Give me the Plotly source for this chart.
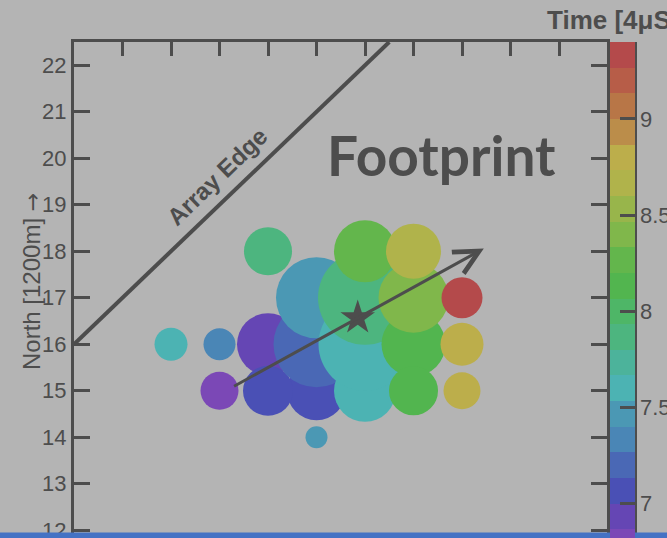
import numpy as np
import plotly.graph_objects as go

# Triggered detector stations (grid units of 1200 m)
east = [2, 3, 3, 4, 4, 4, 5, 5, 5, 5, 6, 6, 6, 6, 7, 7, 7, 7, 8, 8, 8]
north = [16, 16, 15, 18, 16, 15, 17, 16, 15, 14, 18, 17, 16, 15, 18, 17, 16, 15, 17, 16, 15]
# Arrival time of the shower front at each station [4 microseconds]
arrival = [7.60, 7.33, 6.80, 7.87, 6.90, 7.07, 7.47, 7.20, 7.05, 7.45,
           8.25, 7.85, 7.62, 7.58, 8.72, 8.40, 8.12, 8.15, 9.33, 8.80, 8.76]
# Recorded signal, drawn as circle diameter
signal = [3.3, 3.2, 3.8, 4.8, 6.2, 5.0, 8.1, 8.6, 5.9, 2.2,
          6.2, 9.4, 9.3, 6.2, 5.5, 7.0, 6.4, 4.9, 4.1, 4.3, 3.7]

# Reconstructed core and shower axis direction
core_east, core_north = [5.85], [16.57]
axis_start = (3.27, 15.08)
axis_end = (8.45, 18.06)

# Array edge: north = east + 16
edge_east = [0.0, 6.5]
edge_north = [16.0, 22.5]

time_ticks = [7, 7.5, 8, 8.5, 9]
y_ticks = list(range(12, 23))

# Palette: 20 contour levels from bottom (early) to top (late)
palette = ["#7b48b6", "#6546b4", "#4a50b5", "#4a68b5", "#4a86b6",
           "#4b98b4", "#4cb3b3", "#4cb39b", "#4db57f", "#4eb667",
           "#52b54f", "#63b64c", "#80b74b", "#98b54b", "#b0b34b",
           "#bcae4b", "#bb8d4a", "#b87647", "#b75d48", "#b44a4b"]
t_min, t_max = 6.7333, 9.4

colorscale = []
n = len(palette)
for i, c in enumerate(palette):
    colorscale.append([i / n, c])
    colorscale.append([(i + 1) / n, c])

ink = "#4d4d4d"
bg = "#b4b4b4"

# later hits drawn on top
order = np.argsort(arrival, kind="stable")
ex = np.array(east)[order]
nx = np.array(north)[order]
tx = np.array(arrival)[order]
sx = np.array(signal)[order]

L, R, T, B = 74, 60, 42, 5
W, H = 667, 538
pw, ph = W - L - R, H - T - B
x_range = [0, pw / 48.5]
y_range = [22.5 - ph / 46.5, 22.5]

fig = go.Figure()
fig.add_trace(go.Scatter(
    x=ex, y=nx, mode="markers",
    marker=dict(size=sx, sizemode="diameter", sizeref=0.1,
                color=tx, colorscale=colorscale, cmin=t_min, cmax=t_max,
                line=dict(width=0), opacity=1,
                colorbar=dict(
                    x=(610 - L) / pw, xanchor="left", xpad=0,
                    y=1, yanchor="top", ypad=0,
                    lenmode="pixels", len=20 * 25.65,
                    thickness=25, outlinewidth=0,
                    tickvals=time_ticks, ticktext=[f"{v:g}" for v in time_ticks],
                    ticks="inside", ticklen=15, tickwidth=3, tickcolor=ink,
                    tickfont=dict(family="Liberation Sans", size=22, color=ink),
                )),
    showlegend=False, hoverinfo="skip"))

fig.add_trace(go.Scatter(
    x=core_east, y=core_north, mode="markers",
    marker=dict(symbol="star", size=26, color=ink, line=dict(width=0)),
    showlegend=False, hoverinfo="skip"))

fig.update_xaxes(range=x_range, dtick=1, tick0=0, side="top",
                 ticks="inside", ticklen=14, tickwidth=3, tickcolor=ink,
                 showline=True, linewidth=3, linecolor=ink, mirror=True,
                 showticklabels=False, showgrid=False, zeroline=False)
fig.update_yaxes(range=y_range, tickvals=y_ticks,
                 ticks="inside", ticklen=16, tickwidth=3, tickcolor=ink,
                 showline=True, linewidth=3, linecolor=ink, mirror="ticks",
                 ticklabeloverflow="allow",
                 tickfont=dict(family="Liberation Sans", size=22, color=ink),
                 showgrid=False, zeroline=False)

shapes = [
    dict(type="line", xref="x", yref="y",
         x0=edge_east[0], y0=edge_north[0], x1=edge_east[1], y1=edge_north[1],
         line=dict(color=ink, width=4)),
    # palette axis line on the right of the colour bar
    dict(type="line", xref="paper", yref="paper",
         x0=(635.5 - L) / pw, x1=(635.5 - L) / pw, y0=1.0, y1=-0.1,
         line=dict(color=ink, width=3)),
    # blue strip along the bottom
    dict(type="rect", xref="paper", yref="paper", layer="above",
         x0=-0.2, x1=1.2, y0=-0.05, y1=0.5 / ph,
         fillcolor="#4472c4", line=dict(width=0)),
]

annotations = [
    dict(x=axis_end[0], y=axis_end[1], ax=axis_start[0], ay=axis_start[1],
         xref="x", yref="y", axref="x", ayref="y", text="",
         showarrow=True, arrowhead=5, arrowsize=1.6, arrowwidth=3,
         arrowcolor=ink, standoff=0, startstandoff=0),
    dict(x=(441 - L) / pw, y=(H - B - 155) / ph, xref="paper", yref="paper",
         text="Footprint", showarrow=False, xanchor="center", yanchor="middle",
         font=dict(family="Lato", size=55, color=ink, weight="bold")),
    dict(x=2.95, y=19.61, xref="x", yref="y", text="Array Edge",
         showarrow=False, textangle=-44, xanchor="center", yanchor="middle",
         font=dict(family="Liberation Sans", size=24, color=ink, weight="bold")),
    dict(x=(545 - L) / pw, y=(H - B - 20) / ph, xref="paper", yref="paper",
         text="Time [4μS]", showarrow=False, xanchor="left", yanchor="middle",
         font=dict(family="Liberation Sans", size=26, color=ink, weight="bold")),
    dict(x=(31 - L) / pw, y=(H - B - 282) / ph, xref="paper", yref="paper",
         text=("North [1200m] <span style=\"font-family:'DejaVu Sans';"
               "font-size:22px\">→</span>"),
         showarrow=False, textangle=-90,
         xanchor="center", yanchor="middle",
         font=dict(family="Liberation Sans", size=24, color=ink)),
]

fig.update_layout(
    width=W, height=H, autosize=False,
    margin=dict(l=L, r=R, t=T, b=B, pad=0, autoexpand=False),
    paper_bgcolor=bg, plot_bgcolor=bg,
    shapes=shapes, annotations=annotations,
)

fig.write_html("out.html", config={"displayModeBar": False})
